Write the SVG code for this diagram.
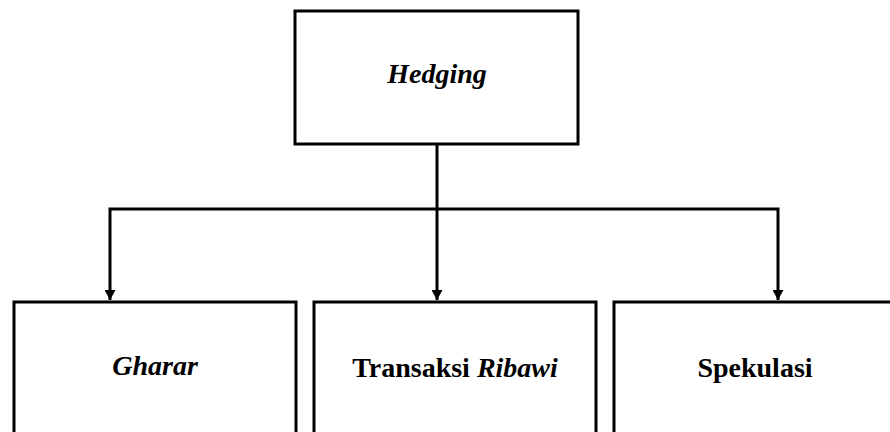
<svg xmlns="http://www.w3.org/2000/svg" width="890" height="432" viewBox="0 0 890 432">
<style>
.box{fill:#fff;stroke:#000;stroke-width:3}
.lbl{font-family:"Liberation Serif","Times New Roman",serif;font-weight:bold;font-size:28px;text-anchor:middle;fill:#000}
.it{font-style:italic}
.con{fill:none;stroke:#000;stroke-width:3}
</style>
<defs>
<marker id="ah" viewBox="0 0 10 10" refX="10" refY="5" markerWidth="10" markerHeight="11" markerUnits="userSpaceOnUse" orient="auto" preserveAspectRatio="none">
<path d="M0,0 L10,5 L0,10 Z" fill="#000"/>
</marker>
</defs>
<g id="connectors">
<line class="con" x1="437" y1="144" x2="437" y2="209"/>
<path class="con" d="M437,209 L110,209 L110,300" marker-end="url(#ah)"/>
<path class="con" d="M437,209 L778,209 L778,300" marker-end="url(#ah)"/>
<path class="con" d="M437,209 L437,300" marker-end="url(#ah)"/>
</g>
<g id="hedging">
<rect class="box" x="295" y="11" width="283" height="133"/>
<text class="lbl it" x="437" y="83">Hedging</text>
</g>
<g id="gharar">
<rect class="box" x="14" y="302" width="282" height="140"/>
<text class="lbl it" x="155" y="375">Gharar</text>
</g>
<g id="ribawi">
<rect class="box" x="314" y="302" width="282" height="140"/>
<text class="lbl" x="455" y="377">Transaksi <tspan class="it">Ribawi</tspan></text>
</g>
<g id="spekulasi">
<rect class="box" x="614" y="302" width="290" height="140"/>
<text class="lbl" x="755" y="377">Spekulasi</text>
</g>
</svg>
